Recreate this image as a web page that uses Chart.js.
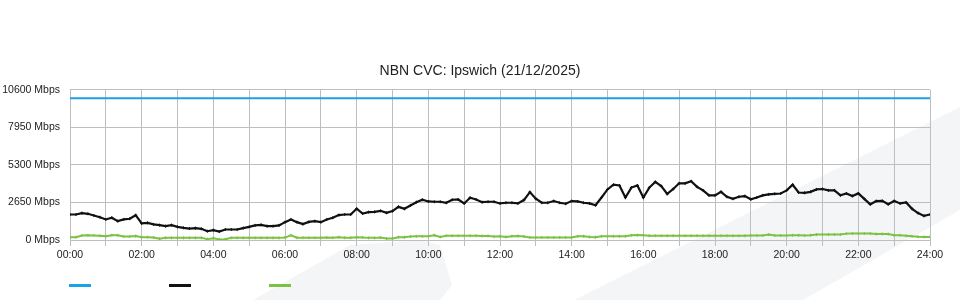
<!DOCTYPE html>
<html>
<head>
<meta charset="utf-8">
<script src="https://cdn.jsdelivr.net/npm/chart.js@4/dist/chart.umd.min.js"></script>
<style>
  html, body { margin: 0; padding: 0; background: #fff; }
  #wrap { position: relative; width: 960px; height: 300px; overflow: hidden; }
  #bg { position: absolute; left: 0; top: 0; }
  #cvc { position: absolute; left: 0; top: 0; }
  .swatch { position: absolute; top: 284px; width: 22px; height: 3px; }
</style>
</head>
<body>
<div id="wrap">
  <svg id="bg" width="960" height="300">
    <polygon points="574,300 960,107 960,210 803,300" fill="#f4f5f7"/>
    <polygon points="253,300 350,245 420,240 440,245 452,285 440,300" fill="#f4f5f7"/>
  </svg>
  <canvas id="cvc" width="960" height="300"></canvas>
  <div class="swatch" style="left:69px;background:#1da1e6"></div>
  <div class="swatch" style="left:169px;background:#111"></div>
  <div class="swatch" style="left:269px;background:#7cc242"></div>
</div>
<script>
// NBN CVC Ipswich 21/12/2025 - 10 minute samples, Mbps
const capacityMbps = 10000;

const downloadMbps = [
  1800, 1800, 1900, 1850, 1730, 1610, 1450, 1570, 1330, 1450, 1500, 1750,
  1170, 1210, 1100, 1050, 980, 1050, 930, 860, 810, 840, 790, 620,
  700, 600, 740, 740, 740, 840, 930, 1030, 1070, 980, 980, 1030,
  1260, 1450, 1260, 1120, 1280, 1330, 1260, 1450, 1570, 1760, 1800, 1800,
  2210, 1870, 1970, 1990, 2060, 1920, 2040, 2340, 2200, 2440, 2670, 2840,
  2720, 2700, 2700, 2630, 2840, 2860, 2580, 2980, 2860, 2670, 2700, 2700,
  2580, 2630, 2630, 2580, 2820, 3380, 2910, 2630, 2630, 2750, 2630, 2560,
  2750, 2720, 2630, 2580, 2450, 3000, 3570, 3900, 3850, 3000, 3700, 3850,
  3000, 3700, 4100, 3800, 3250, 3600, 4000, 4000, 4150, 3750, 3500, 3150,
  3150, 3400, 3050, 2910, 3050, 3100, 2870, 3000, 3150, 3220, 3260, 3280,
  3500, 3900, 3350, 3330, 3400, 3570, 3600, 3500, 3500, 3150, 3280, 3100,
  3290, 2900, 2520, 2750, 2760, 2520, 2750, 2580, 2650, 2200, 1900, 1700,
  1800
];

const uploadMbps = [
  200, 200, 320, 330, 320, 300, 270, 340, 330, 250, 250, 280,
  200, 200, 180, 90, 150, 150, 150, 150, 150, 150, 150, 60,
  130, 40, 50, 150, 150, 150, 150, 150, 150, 150, 150, 150,
  170, 330, 160, 160, 160, 160, 160, 170, 160, 200, 160, 160,
  200, 180, 150, 150, 170, 100, 100, 200, 200, 250, 260, 260,
  260, 340, 220, 300, 300, 300, 300, 300, 300, 290, 290, 240,
  260, 220, 270, 290, 250, 180, 180, 180, 180, 180, 180, 180,
  180, 260, 270, 220, 200, 260, 260, 260, 260, 260, 330, 350,
  330, 300, 300, 300, 300, 300, 300, 300, 300, 300, 300, 300,
  300, 300, 300, 300, 300, 300, 320, 320, 320, 380, 320, 320,
  320, 330, 330, 320, 340, 380, 390, 390, 390, 390, 450, 460,
  460, 460, 450, 420, 430, 420, 330, 330, 300, 260, 230, 220,
  220
];

const yTicks = [0, 2650, 5300, 7950, 10600];
const xLabelEvery = 120; // minutes

const sampleMinutes = downloadMbps.map((v, i) => i * 10);
const toPoints = arr => arr.map((v, i) => ({ x: sampleMinutes[i], y: v }));

const fontFamily = "'Liberation Sans', Arial, sans-serif";
const gridColor = '#bebebe';

new Chart(document.getElementById('cvc'), {
  type: 'line',
  data: {
    datasets: [
      {
        label: 'Capacity',
        data: [{ x: 0, y: capacityMbps }, { x: 1440, y: capacityMbps }],
        borderColor: '#1da1e6',
        borderWidth: 2,
        pointRadius: 0
      },
      {
        label: 'Download',
        data: toPoints(downloadMbps),
        borderColor: '#111',
        backgroundColor: '#111',
        borderWidth: 2.2,
        pointStyle: 'cross',
        pointRadius: 1.5,
        pointBorderWidth: 1,
        tension: 0
      },
      {
        label: 'Upload',
        data: toPoints(uploadMbps),
        borderColor: '#7cc242',
        backgroundColor: '#7cc242',
        borderWidth: 2,
        pointStyle: 'cross',
        pointRadius: 1.5,
        pointBorderWidth: 1,
        tension: 0
      }
    ]
  },
  options: {
    responsive: false,
    animation: false,
    layout: { padding: 0 },
    plugins: {
      legend: { display: false },
      tooltip: { enabled: false },
      title: {
        display: true,
        text: 'NBN CVC: Ipswich (21/12/2025)',
        color: '#222',
        font: { family: fontFamily, size: 14, weight: 'normal' },
        padding: { top: 63, bottom: 10 }
      }
    },
    scales: {
      x: {
        type: 'linear',
        min: 0,
        max: 1440,
        afterFit: scale => { scale.height = 60; },
        grid: { color: gridColor, tickLength: 6 },
        border: { color: gridColor },
        ticks: {
          stepSize: 60,
          autoSkip: false,
          maxRotation: 0,
          padding: 3,
          color: '#222',
          font: { family: "'Liberation Sans Narrow', " + fontFamily, size: 10.5 },
          callback: v => {
            if (v % xLabelEvery !== 0) return '';
            const h = Math.round(v / 60);
            return (h < 10 ? '0' : '') + h + ':00';
          }
        }
      },
      y: {
        min: yTicks[0],
        max: yTicks[yTicks.length - 1],
        afterFit: scale => { scale.width = 70; },
        afterBuildTicks: scale => { scale.ticks = yTicks.map(v => ({ value: v })); },
        grid: { color: gridColor, drawTicks: false },
        border: { color: gridColor },
        ticks: {
          padding: 10,
          color: '#222',
          font: { family: fontFamily, size: 10.5 },
          callback: v => v + ' Mbps'
        }
      },
      // empty spacer on the right so the plot ends at 24:00 = x 930
      yRight: {
        position: 'right',
        min: 0,
        max: 10600,
        afterFit: scale => { scale.width = 30; },
        grid: { drawOnChartArea: false, drawTicks: false },
        border: { display: false },
        ticks: { display: false }
      }
    }
  }
});
</script>
</body>
</html>
